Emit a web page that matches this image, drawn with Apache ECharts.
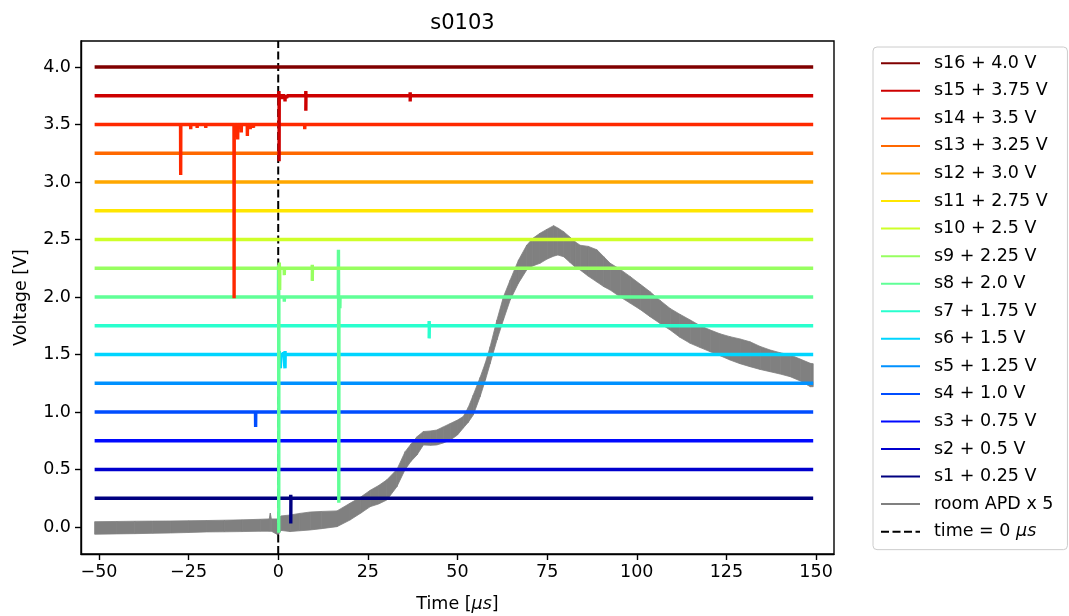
<!DOCTYPE html>
<html>
<head>
<meta charset="utf-8">
<script src="https://cdn.jsdelivr.net/npm/echarts@6/dist/echarts.min.js"></script>
<style>
html, body { margin: 0; padding: 0; background: #ffffff; }
#chart { width: 1069px; height: 616px; }
</style>
</head>
<body>
<div id="chart"></div>
<script>
// Channel traces: each channel is flat at its offset, with a few narrow glitches.
const channelNames = ['s1', 's2', 's3', 's4', 's5', 's6', 's7', 's8',
                      's9', 's10', 's11', 's12', 's13', 's14', 's15', 's16'];
const channelOffsets = [0.25, 0.5, 0.75, 1.0, 1.25, 1.5, 1.75, 2.0,
                        2.25, 2.5, 2.75, 3.0, 3.25, 3.5, 3.75, 4.0];
const channelLabels = ['s1 + 0.25 V', 's2 + 0.5 V', 's3 + 0.75 V', 's4 + 1.0 V',
                       's5 + 1.25 V', 's6 + 1.5 V', 's7 + 1.75 V', 's8 + 2.0 V',
                       's9 + 2.25 V', 's10 + 2.5 V', 's11 + 2.75 V', 's12 + 3.0 V',
                       's13 + 3.25 V', 's14 + 3.5 V', 's15 + 3.75 V', 's16 + 4.0 V'];
// jet colormap sampled at 16 evenly spaced points
const channelColors = ['#000080', '#0000cd', '#0009ff', '#004dff',
                       '#0091ff', '#00d5ff', '#29ffce', '#60ff97',
                       '#97ff60', '#ceff29', '#ffe600', '#ffa700',
                       '#ff6800', '#ff2900', '#cd0000', '#800000'];
// glitches per channel: [time in µs, offset voltage reached]
const channelSpikes = [
  [[3.5, 0.28], [3.5, 0.03]],                                   // s1
  [],                                                            // s2
  [],                                                            // s3
  [[-6.3, 0.87]],                                                // s4
  [],                                                            // s5
  [[0.3, 1.53], [0.6, 1.38], [1.5, 1.52], [1.9, 1.38], [1.9, 1.53], [2.6, 1.51]], // s6
  [[42.1, 1.79], [42.1, 1.64]],                                  // s7
  [[0.1, 2.28], [0.15, -0.05], [1.7, 1.96], [16.8, 2.41], [16.9, 0.21], [17.2, 1.9]], // s8
  [[0.3, 2.30], [0.4, 2.06], [1.7, 2.19], [9.5, 2.28], [9.5, 2.14]], // s9
  [],                                                            // s10
  [],                                                            // s11
  [],                                                            // s12
  [],                                                            // s13
  [[-27.2, 3.06], [-24.4, 3.46], [-22.6, 3.47], [-20.2, 3.47], [-12.3, 1.99],
   [-11.3, 3.37], [-10.3, 3.43], [-8.6, 3.40], [-7.8, 3.46], [-6.9, 3.47], [7.4, 3.46]], // s14
  [[0.2, 3.79], [0.25, 3.18], [1.2, 3.72], [1.9, 3.70], [2.4, 3.73],
   [7.7, 3.79], [7.7, 3.62], [36.8, 3.78], [36.8, 3.70]],        // s15
  []                                                             // s16
];
const traceStart = -51.2;
const traceEnd = 149.2;

// room APD (x5) band: time, upper and lower edge of the noisy trace
const apdTime = [-51.2, -45, -40, -35, -30, -25, -20, -15, -10, -5, -2.5, -2.2, -1.9, 0, 0.8,
                 3.3, 6, 8.9, 12, 16.4, 20, 23, 25.7, 28, 30.3, 33.1, 35.4, 37, 38.7, 40.5,
                 42.5, 44.2, 46, 48, 50, 51.6, 53, 54.4, 56.3, 57.8, 59.1, 61, 62.8, 64.7,
                 67, 69.3, 71, 73, 75, 76.8, 78, 79.6, 81.4, 82.8, 84.2, 86.5, 88.9, 90.8,
                 92.6, 95.4, 98.2, 101, 103.7, 106.5, 109.3, 112, 114.9, 117.7, 120.5, 123.2,
                 126, 128.8, 131.6, 134.4, 137.2, 140, 142.8, 145.6, 148.4, 149.2];
const apdHigh = [0.046, 0.048, 0.05, 0.051, 0.052, 0.054, 0.056, 0.059, 0.062, 0.067, 0.07,
                 0.12, 0.07, 0.07, 0.096, 0.104, 0.118, 0.13, 0.135, 0.14, 0.206, 0.26, 0.32,
                 0.36, 0.41, 0.5, 0.655, 0.72, 0.785, 0.83, 0.835, 0.843, 0.87, 0.9, 0.93,
                 0.96, 1.04, 1.148, 1.3, 1.43, 1.568, 1.8, 2.0, 2.148, 2.32, 2.45, 2.51, 2.554,
                 2.59, 2.62, 2.6, 2.568, 2.52, 2.48, 2.45, 2.44, 2.41, 2.35, 2.293, 2.24,
                 2.177, 2.11, 2.046, 1.97, 1.9, 1.85, 1.8, 1.75, 1.713, 1.68, 1.655, 1.635,
                 1.61, 1.57, 1.539, 1.515, 1.496, 1.46, 1.423, 1.42];
const apdLow = [-0.063, -0.06, -0.058, -0.055, -0.052, -0.048, -0.043, -0.042, -0.04, -0.037,
                -0.037, -0.037, -0.037, -0.07, -0.03, -0.04, -0.033, -0.026, -0.015, 0.003,
                0.06, 0.12, 0.177, 0.2, 0.235, 0.35, 0.5, 0.57, 0.626, 0.713, 0.71, 0.713,
                0.73, 0.756, 0.8, 0.86, 0.91, 0.974, 1.133, 1.28, 1.42, 1.626, 1.8, 1.974,
                2.12, 2.235, 2.27, 2.293, 2.33, 2.355, 2.365, 2.35, 2.3, 2.26, 2.235, 2.18,
                2.13, 2.09, 2.06, 2.0, 1.945, 1.89, 1.829, 1.77, 1.713, 1.65, 1.597, 1.56,
                1.524, 1.49, 1.452, 1.42, 1.394, 1.37, 1.35, 1.33, 1.307, 1.27, 1.22, 1.22];

const xTicks = [-50, -25, 0, 25, 50, 75, 100, 125, 150];
const yTicks = [0.0, 0.5, 1.0, 1.5, 2.0, 2.5, 3.0, 3.5, 4.0];
const xMin = -55, xMax = 155;
const yMin = -0.235, yMax = 4.226;

const FONT = 'DejaVu Sans';

function channelData(offset, spikes) {
  const pts = [[traceStart, offset]];
  spikes.forEach(function (s) {
    pts.push([s[0] - 0.04, offset], [s[0], s[1]], [s[0] + 0.04, offset]);
  });
  pts.push([traceEnd, offset]);
  return pts;
}

const series = [];

// APD band, drawn underneath the channels
series.push({
  name: 'room APD band',
  type: 'custom',
  z: 1,
  silent: true,
  data: apdTime.map(function (t, i) { return [t, apdLow[i], apdHigh[i]]; }),
  encode: { x: 0, y: [1, 2] },
  renderItem: function (params, api) {
    const i = params.dataIndexInside;
    const n = params.dataInsideLength;
    if (i >= n - 1) return null;
    const p1 = api.coord([api.value(0, i), api.value(2, i)]);
    const p2 = api.coord([api.value(0, i + 1), api.value(2, i + 1)]);
    const p3 = api.coord([api.value(0, i + 1), api.value(1, i + 1)]);
    const p4 = api.coord([api.value(0, i), api.value(1, i)]);
    return {
      type: 'polygon',
      shape: { points: [p1, p2, p3, p4] },
      style: { fill: '#808080', stroke: '#808080', lineWidth: 0.8 }
    };
  }
});

// legend entry for the APD trace
series.push({
  name: 'room APD x 5',
  type: 'line',
  data: [],
  symbol: 'none',
  lineStyle: { color: '#808080', width: 2 },
  itemStyle: { color: '#808080' }
});

channelNames.forEach(function (nm, i) {
  series.push({
    name: channelLabels[i],
    type: 'line',
    z: 3,
    symbol: 'none',
    silent: true,
    animation: false,
    data: channelData(channelOffsets[i], channelSpikes[i]),
    lineStyle: { color: channelColors[i], width: 3.4, join: 'bevel', cap: 'butt' },
    itemStyle: { color: channelColors[i] }
  });
});

// t = 0 marker, under the channel traces
series.push({
  name: 'time = 0 μs',
  type: 'line',
  z: 2,
  symbol: 'none',
  silent: true,
  data: [[0, yMin], [0, yMax]],
  lineStyle: { color: '#000000', width: 2, type: [8, 3.5] },
  itemStyle: { color: '#000000' }
});

const legendOrder = channelLabels.slice().reverse().concat(['room APD x 5', 'time = 0 μs']);

const chart = echarts.init(document.getElementById('chart'), null, { renderer: 'canvas' });
chart.setOption({
  animation: false,
  backgroundColor: '#ffffff',
  title: {
    text: 's0103',
    left: 457.5,
    top: 8,
    textAlign: 'center',
    textStyle: { fontFamily: FONT, fontSize: 21, fontWeight: 'normal', color: '#000' }
  },
  grid: {
    left: 81, right: 235, top: 41, bottom: 62,
    outerBoundsMode: 'none',
    containLabel: false,
    show: true, borderColor: '#000', borderWidth: 1.4, backgroundColor: 'transparent'
  },
  legend: {
    orient: 'vertical',
    left: 873,
    top: 47,
    width: 194,
    data: legendOrder,
    selectedMode: false,
    itemWidth: 39,
    itemHeight: 14,
    itemGap: 7.55,
    padding: [6.3, 14, 8, 7],
    borderColor: '#cccccc',
    borderWidth: 1,
    borderRadius: 4,
    backgroundColor: '#ffffff',
    lineStyle: { width: 2 },
    itemStyle: { opacity: 0 },
    formatter: function (name) {
      return name === 'time = 0 μs' ? '{n|time = 0 }{i|μs}' : '{n|' + name + '}';
    },
    textStyle: {
      fontFamily: FONT, fontSize: 17.5, color: '#000', lineHeight: 20,
      padding: [0, 0, 0, 9],
      rich: {
        n: { fontFamily: FONT, fontSize: 17.5, color: '#000', lineHeight: 20 },
        i: { fontFamily: FONT, fontSize: 17.5, color: '#000', lineHeight: 20, fontStyle: 'italic' }
      }
    }
  },
  xAxis: {
    type: 'value',
    min: xMin,
    max: xMax,
    name: 'Time [{i|μs}]',
    nameLocation: 'middle',
    nameGap: 41,
    nameTextStyle: {
      fontFamily: FONT, fontSize: 17.5, color: '#000',
      rich: { i: { fontFamily: FONT, fontSize: 17.5, color: '#000', fontStyle: 'italic' } }
    },
    splitLine: { show: false },
    axisLine: { show: true, onZero: false, lineStyle: { color: '#000', width: 1.4 } },
    axisTick: { show: true, customValues: xTicks, length: 6, lineStyle: { color: '#000', width: 1.4 } },
    axisLabel: {
      customValues: xTicks,
      margin: 9,
      fontFamily: FONT, fontSize: 17.5, color: '#000',
      formatter: function (v) { return String(v).replace('-', '\u2212'); }
    }
  },
  yAxis: {
    type: 'value',
    min: yMin,
    max: yMax,
    name: 'Voltage [V]',
    nameLocation: 'middle',
    nameGap: 51,
    nameTextStyle: { fontFamily: FONT, fontSize: 17.5, color: '#000' },
    splitLine: { show: false },
    axisLine: { show: true, onZero: false, lineStyle: { color: '#000', width: 1.4 } },
    axisTick: { show: true, customValues: yTicks, length: 6, lineStyle: { color: '#000', width: 1.4 } },
    axisLabel: {
      customValues: yTicks,
      margin: 10,
      fontFamily: FONT, fontSize: 17.5, color: '#000',
      formatter: function (v) { return v.toFixed(1); }
    }
  },
  series: series
});
</script>
</body>
</html>
